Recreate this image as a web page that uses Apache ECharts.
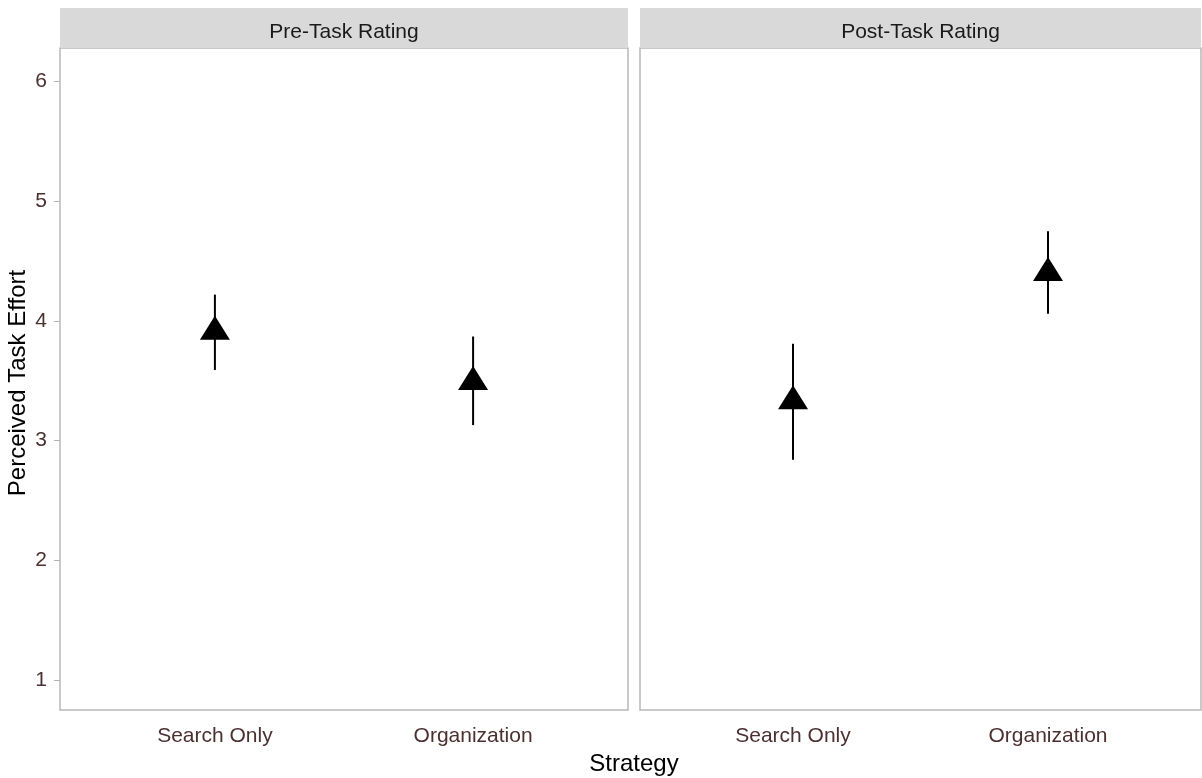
<!DOCTYPE html>
<html>
<head>
<meta charset="utf-8">
<script src="https://cdn.jsdelivr.net/npm/echarts@6/dist/echarts.min.js"></script>
<style>
  html, body { margin: 0; padding: 0; background: #fff; }
  #chart { width: 1202px; height: 778px; }
</style>
</head>
<body>
<div id="chart"></div>
<script>
// facet panels and x categories
const panels = ['Pre-Task Rating', 'Post-Task Rating'];
const categories = ['Search Only', 'Organization'];

// mean and interval per panel
const preMean = [3.91, 3.49];
const preLow = [3.59, 3.13];
const preHigh = [4.22, 3.87];
const postMean = [3.33, 4.40];
const postLow = [2.84, 4.06];
const postHigh = [3.81, 4.75];

const yTicks = [1, 2, 3, 4, 5, 6];

const means = [preMean, postMean];
const lows = [preLow, postLow];
const highs = [preHigh, postHigh];

const grids = [
  { left: 60, right: 574, top: 48, bottom: 68 },
  { left: 640, right: 1, top: 48, bottom: 68 }
];

const labelColor = '#4b3030';
const borderColor = '#b8b8b8';
const fontName = '"Liberation Sans", Arial, sans-serif';

const chart = echarts.init(document.getElementById('chart'));

const xAxes = grids.map((g, i) => ({
  type: 'value',
  gridIndex: i,
  min: 0.4,
  max: 2.6,
  minInterval: 1,
  maxInterval: 1,
  axisLine: { show: false },
  axisTick: { show: false },
  splitLine: { show: false },
  axisLabel: {
    showMinLabel: false,
    showMaxLabel: false,
    color: labelColor,
    fontSize: 21,
    fontFamily: fontName,
    margin: 16,
    formatter: v => {
      const k = Math.round(v);
      return Math.abs(v - k) < 1e-6 && categories[k - 1] ? categories[k - 1] : '';
    }
  }
}));

const yAxes = grids.map((g, i) => ({
  type: 'value',
  gridIndex: i,
  min: 0.75,
  max: 6.28,
  minInterval: 1,
  maxInterval: 1,
  axisLine: { show: false },
  splitLine: { show: false },
  axisTick: {
    show: i === 0,
    length: 6,
    lineStyle: { color: '#b3b3b3', width: 1 },
    customValues: yTicks
  },
  axisLabel: {
    show: i === 0,
    color: labelColor,
    fontSize: 21,
    fontFamily: fontName,
    margin: 13,
    customValues: yTicks
  }
}));

const series = [];
panels.forEach((p, i) => {
  series.push({
    type: 'custom',
    xAxisIndex: i,
    yAxisIndex: i,
    data: categories.map((c, k) => [k + 1, lows[i][k], highs[i][k]]),
    renderItem: (params, api) => {
      const a = api.coord([api.value(0), api.value(1)]);
      const b = api.coord([api.value(0), api.value(2)]);
      return {
        type: 'line',
        shape: { x1: a[0], y1: a[1], x2: b[0], y2: b[1] },
        style: { stroke: '#000', lineWidth: 2 }
      };
    },
    z: 2
  });
  series.push({
    type: 'scatter',
    xAxisIndex: i,
    yAxisIndex: i,
    symbol: 'triangle',
    symbolSize: [30, 24],
    symbolOffset: [0, -4],
    itemStyle: { color: '#000', opacity: 1 },
    data: categories.map((c, k) => [k + 1, means[i][k]]),
    z: 3
  });
});

const strips = [];
grids.forEach((g, i) => {
  const x0 = g.left;
  const w = 1202 - g.right - g.left;
  strips.push({
    type: 'rect',
    left: x0, top: 8,
    shape: { width: w, height: 40 },
    style: { fill: '#d9d9d9' }
  });
  strips.push({
    type: 'text',
    x: x0 + w / 2, y: 32,
    style: {
      text: panels[i],
      fill: '#1a1a1a',
      font: '21px ' + fontName,
      align: 'center',
      verticalAlign: 'middle'
    }
  });
});

strips.push({
  type: 'text',
  x: 634, y: 764,
  style: {
    text: 'Strategy',
    fill: '#000',
    font: '24px ' + fontName,
    align: 'center',
    verticalAlign: 'middle'
  }
});
strips.push({
  type: 'text',
  x: 18, y: 383,
  rotation: Math.PI / 2,
  style: {
    text: 'Perceived Task Effort',
    fill: '#000',
    font: '24px ' + fontName,
    align: 'center',
    verticalAlign: 'middle'
  }
});

chart.setOption({
  animation: false,
  backgroundColor: '#fff',
  grid: grids.map(g => Object.assign({ show: true, borderColor: borderColor, borderWidth: 1.5, backgroundColor: '#fff' }, g)),
  xAxis: xAxes,
  yAxis: yAxes,
  series: series,
  graphic: strips
});
</script>
</body>
</html>
